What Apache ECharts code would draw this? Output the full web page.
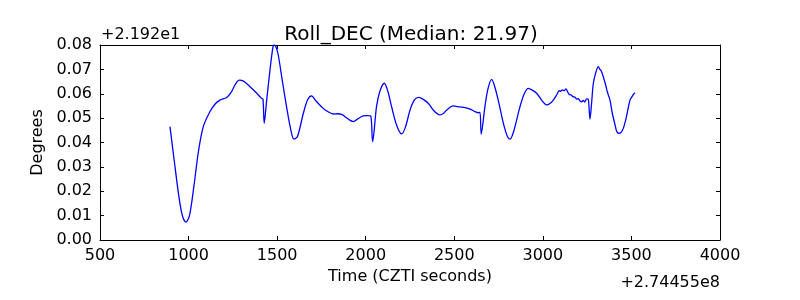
<!DOCTYPE html>
<html>
<head>
<meta charset="utf-8">
<script src="https://cdn.jsdelivr.net/npm/echarts@6/dist/echarts.min.js"></script>
<style>html,body{margin:0;padding:0;background:#fff}#c{width:800px;height:300px}</style>
</head>
<body>
<div id="c"></div>
<script>
const titleText = 'Roll_DEC (Median: 21.97)';
const xLabel = 'Time (CZTI seconds)';
const yLabel = 'Degrees';
const yOffsetText = '+2.192e1';
const xOffsetText = '+2.74455e8';
const timeVals = [895,920,945,965,985,1005,1030,1055,1083,1121,1150,1177,1215,1243,1265,1286,1310,1347,1385,1412,1420,1427,1441,1460,1475,1482,1492,1506,1530,1553,1575,1595,1615,1648,1672,1694,1720,1760,1790,1817,1840,1864,1883,1910,1930,1955,1986,2010,2028,2039,2061,2080,2105,2125,2146,2175,2203,2225,2250,2275,2300,2325,2353,2385,2419,2440,2457,2494,2530,2561,2590,2617,2635,2645,2652,2673,2690,2711,2728,2748,2780,2800,2815,2835,2871,2895,2918,2940,2965,2995,3021,3040,3059,3080,3092,3100,3110,3120,3130,3140,3149,3160,3170,3181,3192,3200,3210,3219,3228,3236,3247,3256,3266,3275,3285,3300,3313,3322,3330,3341,3355,3365,3379,3392,3405,3416,3426,3440,3454,3470,3480,3492,3505,3512,3520];
const rollVals = [0.0465,0.032,0.018,0.010,0.0073,0.010,0.022,0.036,0.0465,0.0527,0.0558,0.0574,0.0585,0.0609,0.0640,0.0656,0.0652,0.0629,0.0602,0.0581,0.0578,0.0479,0.0574,0.070,0.0785,0.080,0.0795,0.076,0.065,0.0547,0.046,0.0414,0.0425,0.052,0.0575,0.0591,0.0570,0.054,0.0525,0.0517,0.0518,0.0515,0.0506,0.0492,0.0486,0.0497,0.0509,0.0510,0.0509,0.0403,0.0547,0.0610,0.0643,0.0610,0.0547,0.0470,0.0435,0.0465,0.0533,0.0575,0.0585,0.0577,0.0561,0.0530,0.0513,0.0520,0.0533,0.0550,0.0546,0.0543,0.0537,0.0527,0.0522,0.0524,0.0434,0.0547,0.0620,0.0659,0.0630,0.0574,0.0470,0.0425,0.0414,0.0445,0.0547,0.0600,0.0622,0.0615,0.0602,0.0572,0.0554,0.0560,0.0574,0.0598,0.0613,0.0610,0.0616,0.0612,0.0620,0.0608,0.0597,0.0595,0.0588,0.0586,0.0578,0.0580,0.0570,0.0567,0.0573,0.0566,0.0579,0.0578,0.0496,0.0560,0.0643,0.0690,0.0711,0.0700,0.0693,0.0670,0.0635,0.0605,0.0574,0.0520,0.0480,0.0447,0.0438,0.0440,0.0458,0.0500,0.0535,0.0574,0.0590,0.0598,0.0604];

const font = 'DejaVu Sans';
const chart = echarts.init(document.getElementById('c'), null, {renderer: 'canvas'});
const axisCommon = {
  axisLine: {show: true, onZero: false, lineStyle: {color: '#000', width: 1}},
  axisTick: {show: true, inside: true, length: 4, lineStyle: {color: '#000'}},
  splitLine: {show: false}
};
chart.setOption({
  animation: false,
  backgroundColor: '#fff',
  title: {text: titleText, left: 406, textAlign: 'center', top: 20, textStyle: {fontFamily: font, fontSize: 20, fontWeight: 'normal', color: '#000'}},
  grid: {left: 100, right: 80, top: 45, bottom: 60, containLabel: false},
  xAxis: [
    Object.assign({type: 'value', min: 500, max: 4000, interval: 500, position: 'bottom',
      name: xLabel, nameLocation: 'middle', nameGap: 26,
      nameTextStyle: {fontFamily: font, fontSize: 16, color: '#000'},
      axisLabel: {fontFamily: font, fontSize: 16, color: '#000', margin: 8, formatter: v => String(v)}}, axisCommon),
    Object.assign({type: 'value', min: 500, max: 4000, interval: 500, position: 'top',
      axisLabel: {show: false}}, axisCommon)
  ],
  yAxis: [
    Object.assign({type: 'value', min: 0, max: 0.08, interval: 0.01, position: 'left',
      name: yLabel, nameLocation: 'middle', nameGap: 50, nameRotate: 90,
      nameTextStyle: {fontFamily: font, fontSize: 16, color: '#000'},
      axisLabel: {fontFamily: font, fontSize: 16, color: '#000', margin: 8, formatter: v => v.toFixed(2)}}, axisCommon),
    Object.assign({type: 'value', min: 0, max: 0.08, interval: 0.01, position: 'right',
      axisLabel: {show: false}}, axisCommon)
  ],
  graphic: [
    {type: 'text', left: 101, top: 27, style: {text: yOffsetText, fontFamily: font, fontSize: 16, fill: '#000'}},
    {type: 'text', right: 80, top: 275, style: {text: xOffsetText, fontFamily: font, fontSize: 16, fill: '#000'}}
  ],
  series: [{
    type: 'line', xAxisIndex: 0, yAxisIndex: 0, showSymbol: false, symbol: 'none',
    smooth: 0.3,
    lineStyle: {color: '#0000ff', width: 1.3},
    data: timeVals.map((t, i) => [t, rollVals[i]])
  }]
});
</script>
</body>
</html>
